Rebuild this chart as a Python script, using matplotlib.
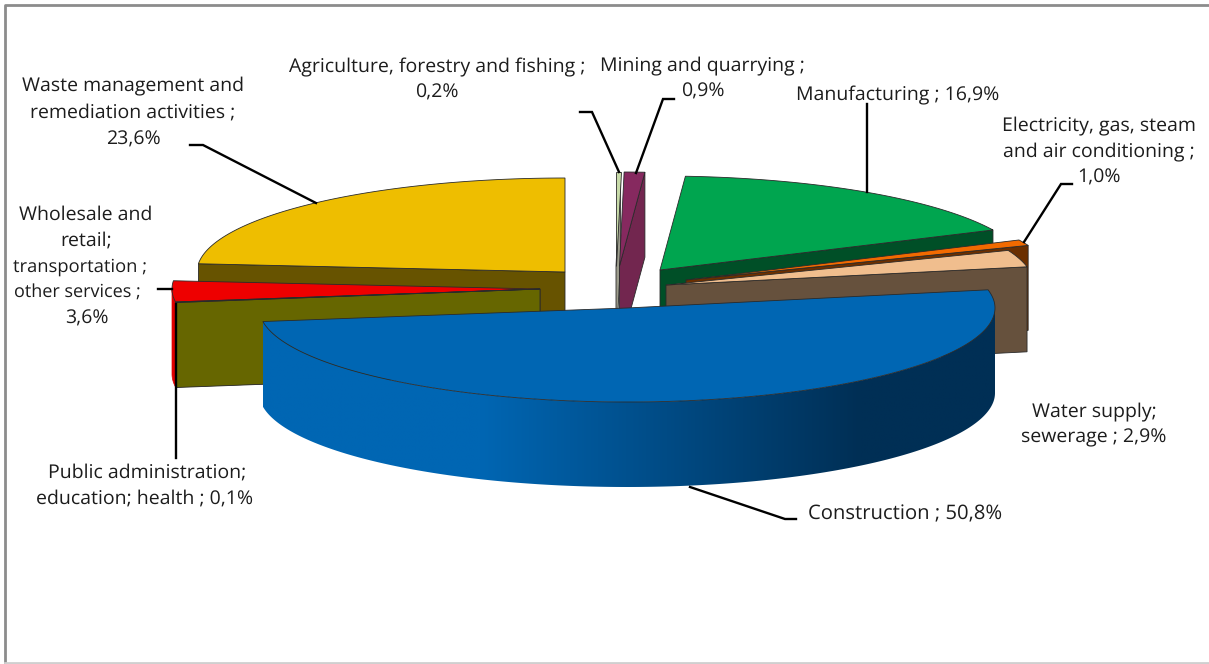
import numpy as np
import matplotlib
matplotlib.use("Agg")
import matplotlib.pyplot as plt
from matplotlib.patches import Polygon
from matplotlib.colors import to_rgb

categories = ["Agriculture, forestry and fishing", "Mining and quarrying", "Manufacturing",
              "Electricity, gas, steam and air conditioning", "Water supply; sewerage", "Construction",
              "Public administration; education; health", "Wholesale and retail; transportation ; other services",
              "Waste management and remediation activities"]
values = [0.2, 0.9, 16.9, 1.0, 2.9, 50.8, 0.1, 3.6, 23.6]

top_colors = ["#C8DBA9", "#86295F", "#00A54F", "#F26A00", "#F0BE8E", "#0066B3", "#6B6B00", "#EE0000", "#EEBE00"]
face_colors = ["#9C9C8C", "#72264F", "#004F27", "#6B2F00", "#66513D", "#002F55", "#666600", "#7A0000", "#675300"]
side_colors = ["#9C9C8C", "#72264F", "#004F27", "#6B2F00", "#66513D", "#002F55", "#666600", "#E00000", "#675300"]

# slice apex positions on the canvas (explosion of each slice)
apex_x = [616, 619.5, 660, 686, 666, 627, 540, 540, 565]
apex_y = [266, 266, 270, 280, 285, 308, 289, 289, 272]
RX, RY, DEPTH = 368, 94, 85
draw_order = [8, 0, 1, 2, 3, 4, 7, 6, 5]

def fmt(v):
    return f"{v:.1f}".replace(".", ",") + "%"

# (text, centre x, centre y, font size)
v = [fmt(x) for x in values]
label_lines = [
    ("Agriculture, forestry and fishing ;", 437, 67, 14), (v[0], 437, 93, 14),
    ("Mining and quarrying ;", 702, 66, 14), (v[1], 703, 92, 14),
    (f"Manufacturing ; {v[2]}", 898, 95, 14),
    ("Electricity, gas, steam", 1099, 126, 14), ("and air conditioning ;", 1099, 152, 14), (v[3], 1099, 178, 14),
    ("Water supply;", 1094, 412, 14), (f"sewerage ; {v[4]}", 1094, 438, 14),
    (f"Construction ; {v[5]}", 905, 514, 14.6),
    ("Public administration;", 147, 473, 14), (f"education; health ; {v[6]}", 145, 499, 14),
    ("Wholesale and", 86, 215, 14), ("retail;", 86, 241, 14), ("transportation ;", 80, 267, 13.2),
    ("other services ;", 77, 293, 13), (v[7], 87, 319, 14),
    ("Waste management and", 133, 86, 14), ("remediation activities ;", 133, 113, 14), (v[8], 133, 140, 14),
]
leaders = [
    ([580, 592, 619], [112, 112, 172]),
    ([674, 663, 636], [99, 99, 173]),
    ([867, 867], [104, 192]),
    ([1072, 1061, 1024], [184, 184, 242]),
    ([190, 203, 316], [145, 145, 203]),
    ([158, 172], [289, 289]),
    ([176, 176], [304, 458]),
    ([690, 785, 796], [487, 519, 519]),
]

plt.rcParams["font.family"] = ["Open Sans", "DejaVu Sans"]
plt.rcParams["text.hinting"] = "none"
fig = plt.figure(figsize=(12.09, 6.64), dpi=100, facecolor="white")
ax = fig.add_axes([0, 0, 1, 1])
ax.set_xlim(0, 1209)
ax.set_ylim(664, 0)
ax.axis("off")

fracs = np.array(values) / np.sum(values)
edges = np.concatenate([[0], np.cumsum(fracs)]) * 2 * np.pi

def rim(i, t):
    return apex_x[i] + RX * np.sin(t), apex_y[i] - RY * np.cos(t)

EC = "#2a2a2a"
z = 1
for i in draw_order:
    t0, t1 = edges[i], edges[i + 1]
    cx, cy = apex_x[i], apex_y[i]
    # outer wall (only the part facing the viewer)
    a, b = max(t0, np.pi / 2), min(t1, 3 * np.pi / 2)
    if b > a:
        ts = np.linspace(a, b, 260)
        xs, ys = rim(i, ts)
        pts = list(zip(xs, ys)) + list(zip(xs[::-1], ys[::-1] + DEPTH))
        if i == 5:  # shaded gradient across the wall
            c0, c1 = np.array(to_rgb("#0066B3")), np.array(to_rgb(side_colors[i]))
            gx = np.linspace(xs.min(), xs.max(), 512)
            f = np.clip((gx - 480) / (860 - 480), 0, 1)[None, :, None]
            grad = c0[None, None, :] * (1 - f) + c1[None, None, :] * f
            im = ax.imshow(grad, extent=(gx[0], gx[-1], ys.max() + DEPTH, ys.min()),
                           aspect="auto", interpolation="bilinear", zorder=z)
            clip = Polygon(pts, transform=ax.transData, facecolor="none", edgecolor="none")
            ax.add_patch(clip)
            im.set_clip_path(clip)
            ax.set_xlim(0, 1209)
            ax.set_ylim(664, 0)
        else:
            ax.add_patch(Polygon(pts, facecolor=side_colors[i], edgecolor=side_colors[i], lw=0.5, zorder=z))
    # radial walls that face the viewer
    for t, vis in ((t0, np.sin(t0) < -1e-6), (t1, np.sin(t1) > 1e-6)):
        if vis:
            x, y = rim(i, t)
            ax.add_patch(Polygon([(cx, cy), (x, y), (x, y + DEPTH), (cx, cy + DEPTH)],
                                 facecolor=face_colors[i], edgecolor=EC, lw=0.6, zorder=z))
    # top face
    ts = np.linspace(t0, t1, 200)
    xs, ys = rim(i, ts)
    ax.add_patch(Polygon([(cx, cy)] + list(zip(xs, ys)), facecolor=top_colors[i], edgecolor=EC, lw=0.6, zorder=z))
    z += 1

for lx, ly in leaders:
    ax.plot(lx, ly, color="black", lw=1.7, solid_joinstyle="miter", zorder=20)

for s, x, y, fs in label_lines:
    ax.text(x, y, s, ha="center", va="center", fontsize=fs, color="#1c1c1c", zorder=21)

# chart frame
ax.plot([1209, 5, 5], [5, 5, 664], color="#8c8c8c", lw=2.0, zorder=22)
ax.plot([5, 1209], [663, 663], color="#cfcfcf", lw=2.0, zorder=22)

fig.savefig("out.png", dpi=100)
